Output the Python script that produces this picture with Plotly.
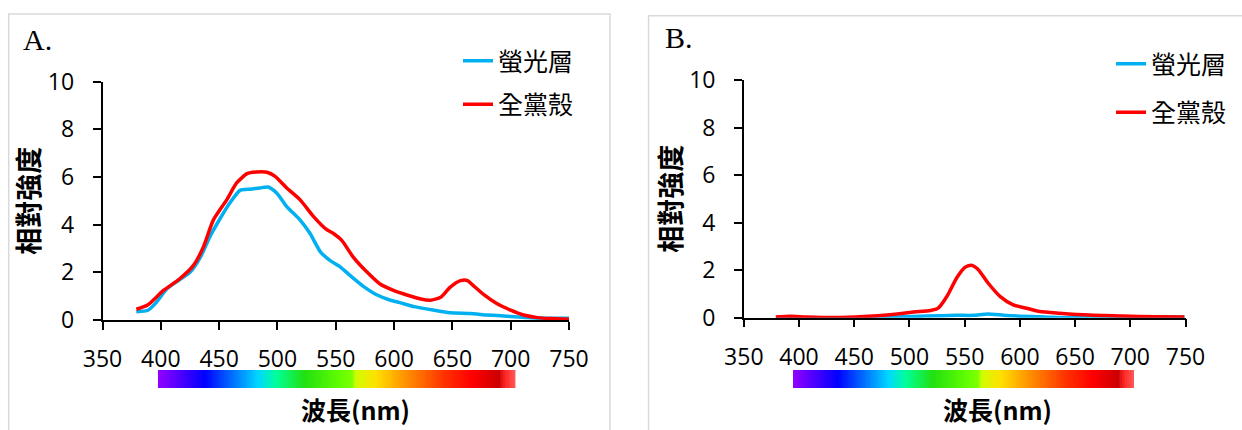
import plotly.graph_objects as go

W, H = 1242, 430

# ---------------- data ----------------
a_red_x = [379, 389, 402, 416, 428, 436.5, 445, 456.5, 465, 474, 482, 491, 498, 508, 519.5, 531, 542,
           548, 555, 565, 577, 588, 600, 611, 623, 631, 640, 648, 657, 663, 668, 677, 688, 700, 711, 723, 734, 750]
a_red_y = [0.45, 0.64, 1.23, 1.72, 2.29, 3.06, 4.19, 5.04, 5.75, 6.14, 6.21, 6.20, 6.03, 5.54, 5.04, 4.34, 3.80,
           3.63, 3.35, 2.64, 2.00, 1.51, 1.23, 1.05, 0.88, 0.83, 0.95, 1.37, 1.65, 1.65, 1.44, 1.06, 0.69, 0.41, 0.21, 0.10, 0.06, 0.03]

a_blue_x = [379, 389, 396, 405, 416, 425, 434, 442, 451, 459, 468, 477, 485, 492, 499.5, 508, 519.5, 528, 537,
            545, 554, 562.5, 574, 585, 597, 605, 617, 631, 648, 665, 680, 697, 714, 731, 750]
a_blue_y = [0.35, 0.41, 0.73, 1.30, 1.69, 2.00, 2.64, 3.49, 4.27, 4.90, 5.44, 5.49, 5.54, 5.58, 5.32, 4.76, 4.19,
            3.63, 2.85, 2.50, 2.22, 1.86, 1.40, 1.06, 0.83, 0.73, 0.56, 0.44, 0.30, 0.27, 0.21, 0.16, 0.10, 0.07, 0.07]

b_red_x = [379, 392, 407, 437, 467, 489, 504, 519, 526, 534, 543, 550, 556, 562, 571, 582, 594, 606, 618,
           636, 663, 693, 723, 749]
b_red_y = [0.03, 0.06, 0.03, 0.01, 0.07, 0.16, 0.24, 0.30, 0.40, 0.90, 1.69, 2.11, 2.21, 2.04, 1.47, 0.90, 0.54,
           0.40, 0.26, 0.19, 0.11, 0.07, 0.04, 0.03]

b_blue_x = [379, 437, 482, 515, 543, 558, 571, 588, 618, 648, 678, 708, 732, 749]
b_blue_y = [0.0, 0.0, 0.01, 0.07, 0.10, 0.10, 0.16, 0.09, 0.04, 0.0, 0.01, 0.03, 0.04, 0.03]

series_names = ["螢光層", "全黨殼"]
panel_labels = ["A.", "B."]
x_ticks = [350, 400, 450, 500, 550, 600, 650, 700, 750]
y_ticks = [0, 2, 4, 6, 8, 10]
y_title = "相對強度"
x_title = "波長(nm)"

# spectrum bar gradient stops
spectrum_pos = [0.0, 0.13, 0.28, 0.33, 0.41, 0.515, 0.546, 0.549, 0.61, 0.685, 0.80, 0.88, 0.955, 0.975, 1.0]
spectrum_col = ["#9000ff", "#0000ff", "#00d8ff", "#00ff99", "#22e010", "#66ff00", "#80ff00", "#ccff00",
                "#ffe000", "#ff9900", "#ff3300", "#ff0000", "#cc0000", "#ff2a2a", "#ff5555"]
spectrum_steps = list(range(200))

BLUE = "#00b0f0"
RED = "#ff0000"


def px_x(p):
    return p / W


def px_y(p):
    return 1 - p / H


fig = go.Figure()

panels = [
    dict(xa="x", ya="y", leg="legend", data=[(a_blue_x, a_blue_y), (a_red_x, a_red_y)]),
    dict(xa="x2", ya="y2", leg="legend2", data=[(b_blue_x, b_blue_y), (b_red_x, b_red_y)]),
]
for pi, p in enumerate(panels):
    for si, (xs, ys) in enumerate(p["data"]):
        fig.add_trace(go.Scatter(
            x=xs, y=ys, mode="lines", name=series_names[si],
            line=dict(color=[BLUE, RED][si], width=3.5, shape="spline", smoothing=0.6),
            xaxis=p["xa"], yaxis=p["ya"], legend=p["leg"], legendgroup=f"g{pi}{si}",
            hoverinfo="skip",
        ))

# spectrum bars
for xa, ya in [("x3", "y3"), ("x4", "y4")]:
    fig.add_trace(go.Heatmap(
        z=[spectrum_steps], colorscale=[[p, c] for p, c in zip(spectrum_pos, spectrum_col)],
        showscale=False, xaxis=xa, yaxis=ya, hoverinfo="skip"))

tickfont = dict(family="Open Sans", size=23, color="black")
titlefont = dict(family="Noto Sans CJK TC", size=27, color="black", weight="bold")
xtitlefont = dict(family="Noto Sans CJK TC", size=25, color="black", weight="bold")
legfont = dict(family="Noto Sans CJK TC", size=25, color="black")


def xaxis(dom, anchor):
    return dict(domain=dom, anchor=anchor, range=[350, 750], tickvals=x_ticks, showgrid=False, zeroline=False,
                showline=True, linecolor="black", linewidth=1.5, ticks="outside", ticklen=8, tickwidth=1.5,
                tickcolor="black", tickfont=tickfont, ticklabelstandoff=10, automargin=False)


def yaxis(dom, anchor):
    return dict(domain=dom, anchor=anchor, range=[0, 10], tickvals=y_ticks, showgrid=False, zeroline=False,
                showline=True, linecolor="black", linewidth=1.5, ticks="outside", ticklen=8, tickwidth=1.5,
                tickcolor="black", tickfont=tickfont, ticklabelstandoff=14, automargin=False,
                title=dict(text=y_title, font=titlefont, standoff=0))


hidden = dict(visible=False, showgrid=False, zeroline=False, fixedrange=True, automargin=False)

fig.update_layout(
    width=W, height=H, margin=dict(l=0, r=0, t=0, b=0, autoexpand=False),
    paper_bgcolor="white", plot_bgcolor="white",
    xaxis=xaxis([px_x(102.5), px_x(569)], "y"),
    yaxis=yaxis([px_y(320), px_y(81.7)], "x"),
    xaxis2=xaxis([px_x(743.8), px_x(1185.5)], "y2"),
    yaxis2=yaxis([px_y(317.7), px_y(80)], "x2"),
    xaxis3=dict(domain=[px_x(157.8), px_x(515.5)], anchor="y3", **hidden),
    yaxis3=dict(domain=[px_y(388), px_y(370)], anchor="x3", **hidden),
    xaxis4=dict(domain=[px_x(793), px_x(1134)], anchor="y4", **hidden),
    yaxis4=dict(domain=[px_y(388), px_y(370)], anchor="x4", **hidden),
    legend=dict(x=px_x(458), y=px_y(38), xanchor="left", yanchor="top", traceorder="grouped", tracegroupgap=8,
                font=legfont, bgcolor="rgba(0,0,0,0)"),
    legend2=dict(x=px_x(1111), y=px_y(41), xanchor="left", yanchor="top", traceorder="grouped", tracegroupgap=13,
                 font=legfont, bgcolor="rgba(0,0,0,0)"),
    shapes=[
        dict(type="rect", xref="paper", yref="paper", x0=px_x(8.7), x1=px_x(610), y0=-0.1, y1=px_y(14),
             line=dict(color="#d9d9d9", width=1.5)),
        dict(type="rect", xref="paper", yref="paper", x0=px_x(648.6), x1=1.1, y0=-0.1, y1=px_y(15.7),
             line=dict(color="#d9d9d9", width=1.5)),
    ],
    annotations=[
        dict(text=panel_labels[0], xref="paper", yref="paper", x=px_x(21), y=px_y(40), xanchor="left",
             yanchor="middle", showarrow=False, font=dict(family="Liberation Serif", size=30, color="black")),
        dict(text=panel_labels[1], xref="paper", yref="paper", x=px_x(663), y=px_y(38), xanchor="left",
             yanchor="middle", showarrow=False, font=dict(family="Liberation Serif", size=30, color="black")),
        dict(text=x_title, xref="paper", yref="paper", x=px_x(355), y=px_y(429), xanchor="center",
             yanchor="bottom", showarrow=False, font=xtitlefont),
        dict(text=x_title, xref="paper", yref="paper", x=px_x(997), y=px_y(429), xanchor="center",
             yanchor="bottom", showarrow=False, font=xtitlefont),
    ],
)

fig.write_html("out.html", config={"displayModeBar": False},
               post_script="document.body.style.margin='0';document.body.style.overflow='hidden';")
